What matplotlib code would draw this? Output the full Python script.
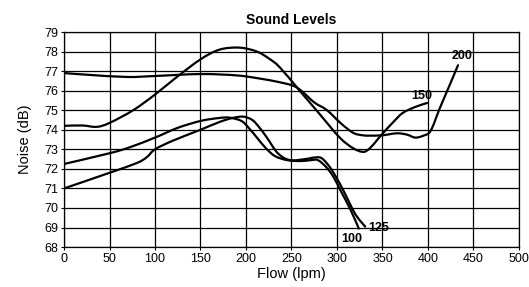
import matplotlib
matplotlib.use('Agg')
import matplotlib.pyplot as plt
from matplotlib.path import Path
from matplotlib.patches import PathPatch
import numpy as np

plt.rcParams['font.family'] = ['Liberation Sans', 'DejaVu Sans']

# readings (flow lpm, noise dB)
flow_200 = [0, 30, 70, 100, 150, 190, 215, 235, 252, 262, 275, 289, 305, 318, 328, 336, 350,
            366, 377, 386, 395, 403, 413, 424, 433]
noise_200 = [76.9, 76.8, 76.7, 76.75, 76.85, 76.78, 76.62, 76.45, 76.25, 75.95, 75.4, 75.0, 74.3,
             73.84, 73.72, 73.7, 73.72, 73.82, 73.75, 73.6, 73.7, 73.95, 75.1, 76.3, 77.3]

flow_150 = [0, 20, 36, 50, 76, 100, 124, 150, 171, 193, 212, 225, 237, 259, 281, 303, 318, 329,
            336, 344, 350, 362, 372, 385, 399]
noise_150 = [74.2, 74.22, 74.15, 74.35, 75.0, 75.8, 76.7, 77.6, 78.1, 78.2, 78.0, 77.65, 77.2,
             76.0, 74.8, 73.6, 73.05, 72.87, 73.05, 73.47, 73.8, 74.4, 74.85, 75.15, 75.37]

flow_100 = [0, 50, 72, 100, 125, 150, 170, 182, 195, 203, 212, 222, 232, 245, 260, 272, 279,
            288, 296, 305, 315, 324]
noise_100 = [72.25, 72.8, 73.1, 73.6, 74.1, 74.45, 74.6, 74.62, 74.45, 74.1, 73.6, 73.05, 72.65,
             72.45, 72.4, 72.45, 72.45, 72.1, 71.6, 70.8, 69.9, 68.95]

flow_125 = [0, 50, 80, 91, 100, 120, 150, 171, 185, 197, 207, 215, 223, 235, 248, 265, 275, 283,
            292, 300, 307, 320, 331]
noise_125 = [71.0, 71.8, 72.3, 72.6, 73.0, 73.45, 74.0, 74.4, 74.6, 74.67, 74.5, 74.1, 73.6,
             72.8, 72.45, 72.5, 72.58, 72.55, 72.1, 71.5, 70.9, 69.7, 69.05]

x_ticks = list(range(0, 501, 50))
y_ticks = list(range(68, 80))


def smooth_path(xs, ys):
    # catmull-rom through the read points, drawn as cubic bezier segments
    p = np.column_stack([xs, ys]).astype(float)
    verts = [p[0]]
    codes = [Path.MOVETO]
    n = len(p)
    for i in range(n - 1):
        p0 = p[i - 1] if i > 0 else p[i]
        p1, p2 = p[i], p[i + 1]
        p3 = p[i + 2] if i + 2 < n else p[i + 1]
        verts += [p1 + (p2 - p0) / 6, p2 - (p3 - p1) / 6, p2]
        codes += [Path.CURVE4] * 3
    return Path(verts, codes)


fig = plt.figure(figsize=(5.29, 2.87), dpi=100)
ax = fig.add_axes([0.121, 0.139, 0.86, 0.7495])

for fl, nz in [(flow_200, noise_200), (flow_150, noise_150),
               (flow_100, noise_100), (flow_125, noise_125)]:
    ax.add_patch(PathPatch(smooth_path(fl, nz), fill=False, edgecolor='black', lw=1.6,
                           capstyle='round', joinstyle='round'))

lbl = dict(fontsize=9, fontweight='bold', va='center')
ax.text(437, 77.75, '200', ha='center', **lbl)
ax.text(393, 75.75, '150', ha='center', **lbl)
ax.text(334, 69.0, '125', ha='left', **lbl)
ax.text(316, 68.42, '100', ha='center', **lbl)

ax.set_xlim(0, 500)
ax.set_ylim(68, 79)
ax.set_xticks(x_ticks)
ax.set_yticks(y_ticks)
ax.grid(True, color='black', lw=0.9)
ax.set_axisbelow(True)
for s in ax.spines.values():
    s.set_linewidth(0.9)
ax.tick_params(labelsize=9, length=2.5, width=0.8, pad=1.5)

ax.set_title('Sound Levels', fontsize=10, fontweight='bold', pad=6)
ax.set_xlabel('Flow (lpm)', fontsize=10.5, labelpad=2)
ax.set_ylabel('Noise (dB)', fontsize=10.5, labelpad=9)

fig.savefig('out.png', dpi=100)
